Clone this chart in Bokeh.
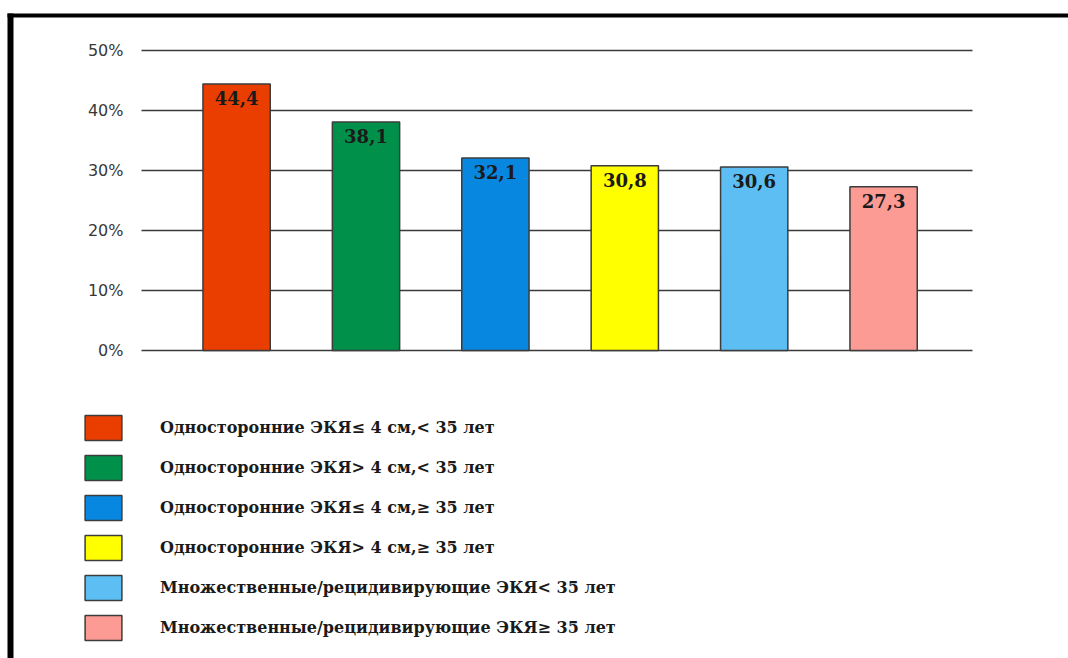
from bokeh.plotting import figure
from bokeh.models import (ColumnDataSource, Range1d, LinearAxis, FixedTicker,
                          PrintfTickFormatter, Legend, LegendItem)
from bokeh.core.properties import value
from bokeh.embed import file_html
from bokeh.resources import INLINE

# ---- data ----
categories = [
    "Односторонние ЭКЯ≤ 4 см,< 35 лет",
    "Односторонние ЭКЯ> 4 см,< 35 лет",
    "Односторонние ЭКЯ≤ 4 см,≥ 35 лет",
    "Односторонние ЭКЯ> 4 см,≥ 35 лет",
    "Множественные/рецидивирующие ЭКЯ< 35 лет",
    "Множественные/рецидивирующие ЭКЯ≥ 35 лет",
]
values = [44.4, 38.1, 32.1, 30.8, 30.6, 27.3]
colors = ["#EA3E00", "#00904A", "#0787E0", "#FFFF00", "#5CBEF2", "#FB9B94"]
y_ticks = [0, 10, 20, 30, 40, 50]
value_labels = [f"{v:.1f}".replace(".", ",") for v in values]

# ---- layout helpers (page pixels -> data units) ----
W, H = 1068, 658
OFF = 0
CAT_PX = 129.4
MID_PX = 559.6
ZERO_PX = 350
PX_PER_PCT = 6.0


def xd(px):
    return (len(values) - 1) / 2 + (px - MID_PX) / CAT_PX


def yd(py):
    return (ZERO_PX - py) / PX_PER_PCT


p = figure(width=W, height=H,
           x_range=Range1d(xd(OFF), xd(OFF + W)),
           y_range=Range1d(yd(OFF + H), yd(OFF)),
           x_axis_type=None, y_axis_type=None,
           toolbar_location=None, output_backend="svg",
           min_border=0, min_border_left=0, min_border_right=0,
           min_border_top=0, min_border_bottom=0,
           outline_line_color=None, background_fill_color="white",
           border_fill_color="white")

# frame decoration (black border at top and left)
p.line(x=[xd(7), xd(1080)], y=[yd(15), yd(15)], line_color="black", line_width=4)
p.line(x=[xd(10), xd(10)], y=[yd(13), yd(670)], line_color="black", line_width=6)

# horizontal grid lines at tick values
gx0, gx1 = xd(141), xd(972)
p.segment(x0=[gx0] * len(y_ticks), x1=[gx1] * len(y_ticks),
          y0=y_ticks, y1=y_ticks, line_color="#3a3a3a", line_width=1.3)

src = ColumnDataSource(dict(x=list(range(len(values))), top=values,
                            color=colors, label=value_labels, name=categories))

bars = p.vbar(x="x", top="top", bottom=0, width=0.52, source=src,
              fill_color="color", line_color="#3c3c3c", line_width=1.5)

p.text(x="x", y="top", text="label", source=src,
       text_align="center", text_baseline="top", y_offset=7,
       text_font=value("DejaVu Serif"), text_font_style="bold",
       text_font_size="18px", text_color="#1a1a1a")

ax = LinearAxis(ticker=FixedTicker(ticks=y_ticks),
                formatter=PrintfTickFormatter(format="%d%%"),
                fixed_location=gx0,
                axis_line_color=None, major_tick_line_color=None,
                minor_tick_line_color=None, major_tick_out=0, major_tick_in=0,
                major_label_standoff=18,
                major_label_text_font="DejaVu Sans",
                major_label_text_font_size="16px",
                major_label_text_color="#383838")
p.add_layout(ax, "left")

items = [LegendItem(label=categories[i], renderers=[bars], index=i)
         for i in range(len(categories))]
leg = Legend(items=items, location=(80, 15), orientation="vertical",
             glyph_width=46, glyph_height=31, spacing=9, padding=0, margin=0,
             label_standoff=34, border_line_color=None,
             background_fill_alpha=0,
             label_text_font="DejaVu Serif", label_text_font_style="bold",
             label_text_font_size="16px", label_text_color="#1a1a1a")
p.add_layout(leg)

open("out.html", "w").write(file_html(p, INLINE))
